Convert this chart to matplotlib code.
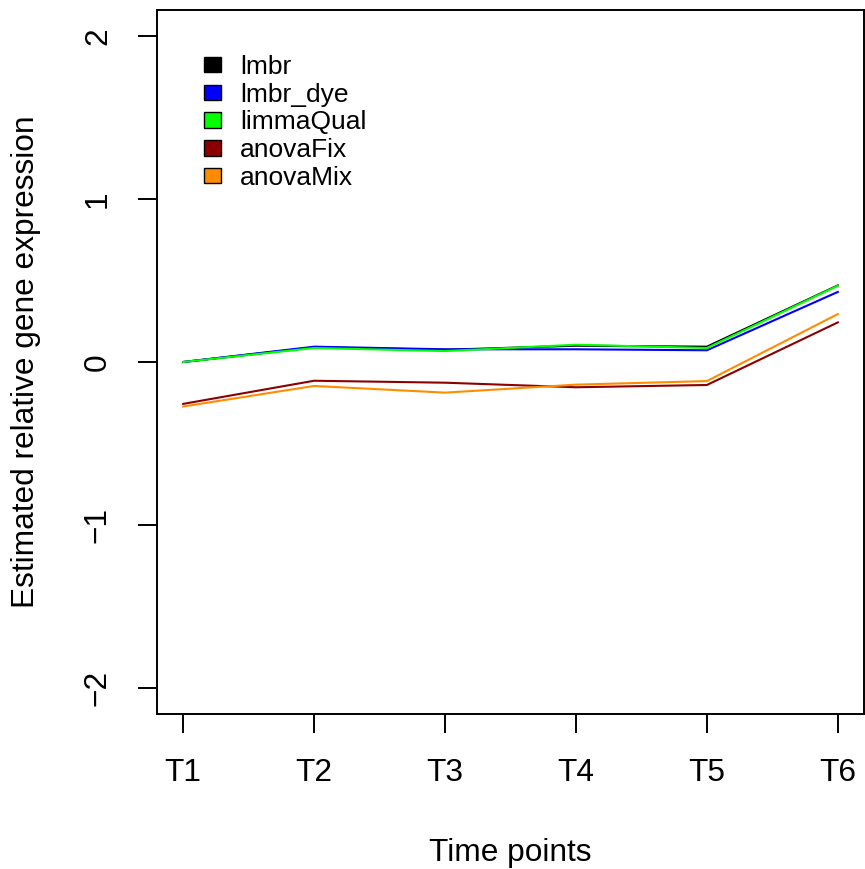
import numpy as np
import matplotlib
matplotlib.use("Agg")
import matplotlib.pyplot as plt
from matplotlib.patches import Patch

# values, one per time point
TIMES = ["T1", "T2", "T3", "T4", "T5", "T6"]
LMBR = [0.00, 0.090, 0.075, 0.100, 0.094, 0.470]
LMBR_DYE = [0.00, 0.094, 0.078, 0.078, 0.072, 0.430]
LIMMA_QUAL = [0.00, 0.086, 0.067, 0.106, 0.086, 0.468]
ANOVA_FIX = [-0.257, -0.115, -0.127, -0.155, -0.141, 0.243]
ANOVA_MIX = [-0.273, -0.147, -0.188, -0.139, -0.117, 0.294]

NAMES = ["lmbr", "lmbr_dye", "limmaQual", "anovaFix", "anovaMix"]
COLORS = ["#000000", "#0000FF", "#00FF00", "#8B0000", "#FF8C00"]
Y_TICKS = [-2, -1, 0, 1, 2]

plt.rcParams.update({"font.family": ["Liberation Sans", "DejaVu Sans"],
                     "font.size": 22.8, "axes.linewidth": 1.4})

fig = plt.figure(figsize=(8.65, 8.69), dpi=100)
ax = fig.add_axes([157 / 865, 1 - 714 / 869, 707 / 865, 704 / 869])

x = np.arange(1, len(TIMES) + 1)
for vals, col in zip([LMBR, LMBR_DYE, LIMMA_QUAL, ANOVA_FIX, ANOVA_MIX], COLORS):
    ax.plot(x, vals, color=col, lw=1.5)

ax.set_xlim(0.8, 6.2)
ax.set_ylim(-2.16, 2.16)
ax.set_xticks(x, TIMES)
ax.set_yticks(Y_TICKS, [str(v).replace("-", "\u2212") for v in Y_TICKS])
ax.tick_params(direction="out", length=13.7, width=1.4, pad=18)
for lab in ax.get_yticklabels():
    lab.set_rotation(90)
    lab.set_va("center")
ax.set_xlabel("Time points", labelpad=36)
ax.set_ylabel("Estimated relative gene expression", labelpad=30)

handles = [Patch(facecolor=c, edgecolor="black", lw=1.0) for c in COLORS]
ax.legend(handles, NAMES, loc="upper left", bbox_to_anchor=(0.066, 0.936),
          frameon=False, fontsize=19, borderpad=0, borderaxespad=0,
          handlelength=0.65, handleheight=0.53, handletextpad=0.72,
          labelspacing=0.14)

fig.savefig("out.png", dpi=100)
